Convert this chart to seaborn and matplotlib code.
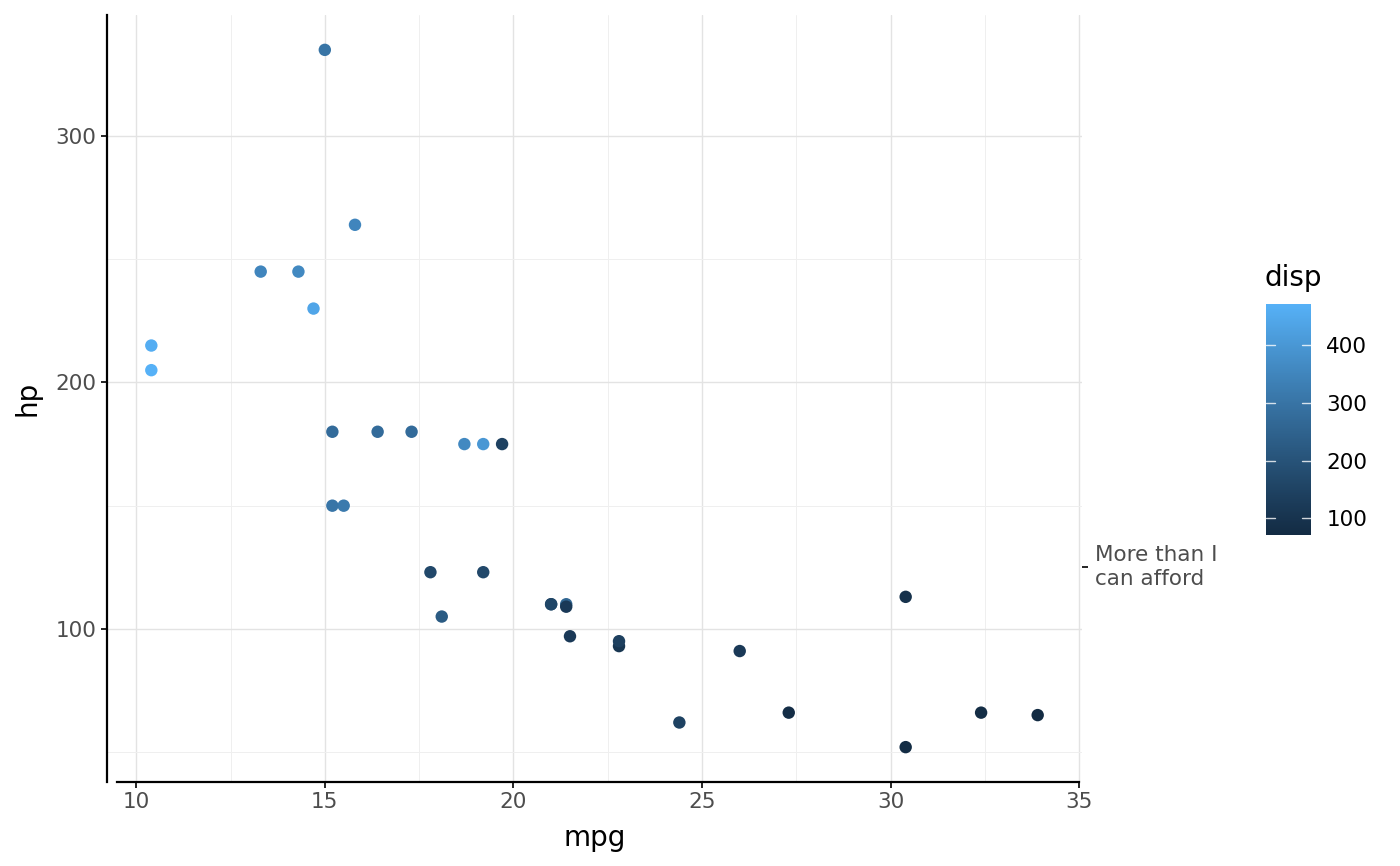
import numpy as np
import pandas as pd
import matplotlib
matplotlib.use("Agg")
import matplotlib.pyplot as plt
import seaborn as sns
from matplotlib.colors import ListedColormap, Normalize
from matplotlib.cm import ScalarMappable

mpg = [21.0, 21.0, 22.8, 21.4, 18.7, 18.1, 14.3, 24.4, 22.8, 19.2, 17.8, 16.4, 17.3, 15.2,
       10.4, 10.4, 14.7, 32.4, 30.4, 33.9, 21.5, 15.5, 15.2, 13.3, 19.2, 27.3, 26.0, 30.4,
       15.8, 19.7, 15.0, 21.4]
hp = [110, 110, 93, 110, 175, 105, 245, 62, 95, 123, 123, 180, 180, 180, 205, 215, 230, 66,
      52, 65, 97, 150, 150, 245, 175, 66, 91, 113, 264, 175, 335, 109]
disp = [160, 160, 108, 258, 360, 225, 360, 146.7, 140.8, 167.6, 167.6, 275.8, 275.8, 275.8,
        472, 460, 440, 78.7, 75.7, 71.1, 120.1, 318, 304, 350, 400, 79, 120.3, 95.1, 351,
        145, 301, 121]
x_ticks = [10, 15, 20, 25, 30, 35]
y_ticks = [100, 200, 300]
sec_tick = [125]
sec_label = ["More than I\ncan afford"]
cbar_ticks = [100, 200, 300, 400]
low_col = "#132B43"
high_col = "#56B1F7"

df = pd.DataFrame({"mpg": mpg, "hp": hp, "disp": disp})


# Lab-space gradient like ggplot2's scale_colour_gradient
def _hex2rgb(h):
    h = h.lstrip("#")
    return np.array([int(h[i:i+2], 16) / 255 for i in (0, 2, 4)])

M = np.array([[0.4124, 0.3576, 0.1805], [0.2126, 0.7152, 0.0722], [0.0193, 0.1192, 0.9505]])
WHITE = np.array([0.95047, 1.0, 1.08883])

def _to_lab(rgb):
    lin = np.where(rgb <= 0.04045, rgb / 12.92, ((rgb + 0.055) / 1.055) ** 2.4)
    xyz = M @ lin / WHITE
    f = np.where(xyz > (6/29)**3, np.cbrt(xyz), xyz / (3*(6/29)**2) + 4/29)
    return np.array([116*f[1] - 16, 500*(f[0]-f[1]), 200*(f[1]-f[2])])

def _from_lab(lab):
    fy = (lab[0] + 16) / 116
    fx = fy + lab[1] / 500
    fz = fy - lab[2] / 200
    f = np.array([fx, fy, fz])
    xyz = np.where(f > 6/29, f**3, 3*(6/29)**2 * (f - 4/29)) * WHITE
    lin = np.linalg.solve(M, xyz)
    lin = np.clip(lin, 0, 1)
    rgb = np.where(lin <= 0.0031308, 12.92*lin, 1.055*lin**(1/2.4) - 0.055)
    return np.clip(rgb, 0, 1)

lab_lo, lab_hi = _to_lab(_hex2rgb(low_col)), _to_lab(_hex2rgb(high_col))
cmap = ListedColormap([_from_lab(lab_lo + t*(lab_hi - lab_lo)) for t in np.linspace(0, 1, 256)])

sns.set_theme(style="white")
plt.rcParams["font.family"] = ["DejaVu Sans"]

fig = plt.figure(figsize=(14, 8.66), dpi=100)
ax = fig.add_axes([107/1400, 1-782/866, (1082-107)/1400, (782-15)/866])

vmin, vmax = min(disp), max(disp)
norm = Normalize(vmin=vmin, vmax=vmax)

sns.scatterplot(data=df, x="mpg", y="hp", hue="disp", palette=cmap, hue_norm=norm,
                s=80, linewidth=0, legend=False, ax=ax, zorder=3)

xr = max(mpg) - min(mpg)
yr = max(hp) - min(hp)
ax.set_xlim(min(mpg) - 0.05*xr, max(mpg) + 0.05*xr)
ax.set_ylim(min(hp) - 0.05*yr, max(hp) + 0.05*yr)

ax.set_xticks(x_ticks)
ax.set_yticks(y_ticks)
ax.set_xticks([12.5, 17.5, 22.5, 27.5, 32.5], minor=True)
ax.set_yticks([50, 150, 250], minor=True)
ax.grid(which="major", color="#E3E3E3", linewidth=1.0)
ax.grid(which="minor", color="#EFEFEF", linewidth=0.7)
ax.set_axisbelow(True)

for s in ["top", "right"]:
    ax.spines[s].set_visible(False)
ax.spines["left"].set_color("black")
ax.spines["left"].set_linewidth(1.6)
ax.spines["bottom"].set_color("black")
ax.spines["bottom"].set_linewidth(1.6)
ax.spines["bottom"].set_bounds(9.5, 35)

ax.tick_params(axis="both", which="major", direction="out", length=4.5, width=1.2,
               color="black", labelsize=15.5, labelcolor="#4D4D4D", bottom=True, left=True, pad=3)
ax.tick_params(axis="both", which="minor", length=0)

ax.set_xlabel("mpg", fontsize=20, color="black", labelpad=8)
ax.set_ylabel("hp", fontsize=20, color="black", labelpad=10)

sec = ax.secondary_yaxis("right")
sec.set_yticks(sec_tick)
sec.set_yticklabels(sec_label)
sec.spines["right"].set_visible(False)
sec.tick_params(axis="y", length=4.5, width=1.2, color="black", labelsize=15.5,
                labelcolor="#4D4D4D", pad=5)
for lab in sec.get_yticklabels():
    lab.set_linespacing(1.25)
    lab.set_verticalalignment("center")

# colorbar
cax = fig.add_axes([1266/1400, 1-535/866, 45/1400, (535-304)/866])
sm = ScalarMappable(norm=norm, cmap=cmap)
cb = fig.colorbar(sm, cax=cax)
cb.outline.set_visible(False)
cb.set_ticks(cbar_ticks)
cax.tick_params(length=0, labelsize=15.5, labelcolor="black", pad=11)
for t in cbar_ticks:
    cax.plot([0, 0.2], [t, t], color="white", lw=1, transform=cax.get_yaxis_transform(), alpha=0.8)
    cax.plot([0.8, 1.0], [t, t], color="white", lw=1, transform=cax.get_yaxis_transform(), alpha=0.8)
fig.text(1265/1400, 1-278/866, "disp", fontsize=20, color="black", ha="left", va="center")

fig.savefig("out.png", dpi=100)
